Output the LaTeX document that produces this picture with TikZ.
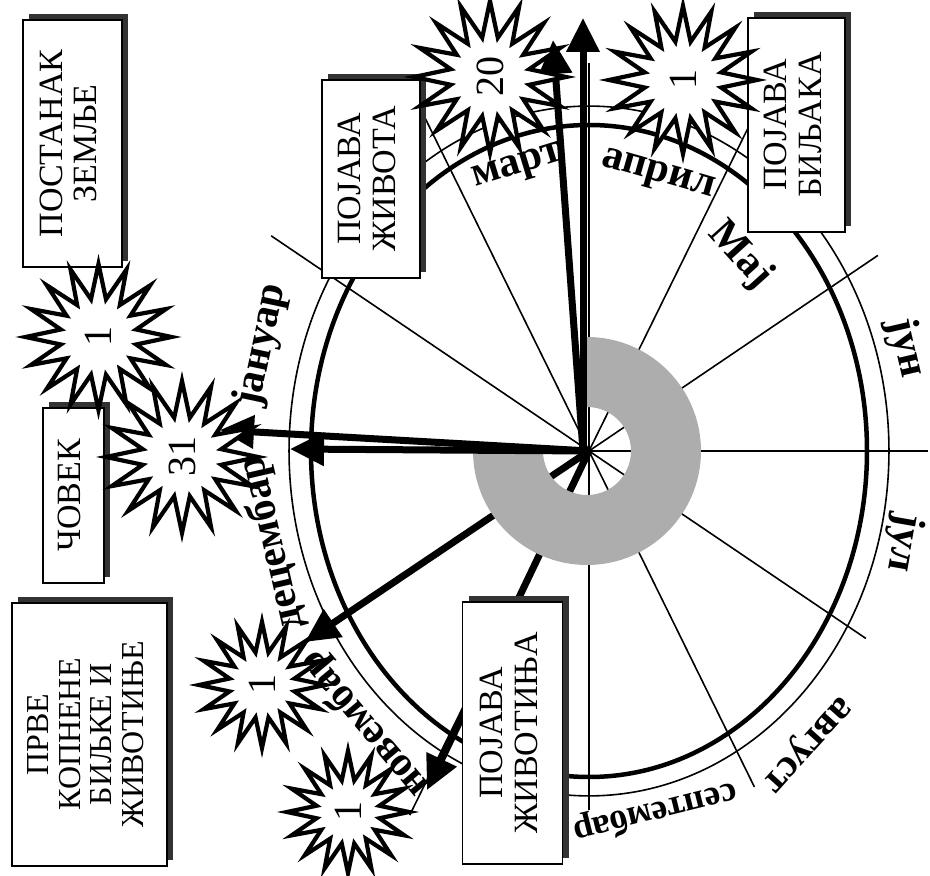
\documentclass[tikz,border=0pt]{standalone}
\usepackage{fontspec}
\setmainfont{Liberation Serif}
\usepackage{graphicx}
\usetikzlibrary{shapes.geometric,arrows.meta,shadows,calc}

\newcommand{\uspravno}[1]{\rotatebox{90}{\begin{tabular}{@{}c@{}}#1\end{tabular}}}

\tikzset{
  kutija/.style={draw, line width=1.8pt, fill=white, inner sep=0pt,
    font=\fontsize{34}{35}\selectfont,
    drop shadow={shadow xshift=6pt, shadow yshift=6pt, fill=black!80, opacity=1}},
  zvezda/.style={star, star points=16, star point ratio=1.9, draw, line width=4.2pt,
    fill=white, inner sep=0pt, rotate=90, font=\fontsize{40}{40}\selectfont},
  mesec/.style={inner sep=0pt, font=\bfseries\fontsize{42}{42}\selectfont},
  zbica/.style={line width=1.6pt},
  strela/.style={line width=7pt, -{Triangle[length=34pt,width=32pt]}},
}

\begin{document}
\begin{tikzpicture}[x=1pt,y=1pt]
\useasboundingbox (0,0) rectangle (930,876);
\coordinate (C) at (589,425);
\coordinate (Cs) at (587,425);
\coordinate (Cg) at (583,425);

% zbice i prstenovi
\begin{scope}[shift={(C)},x=278pt,y=326pt]
\foreach \k/\d in {0/1.22,30/1.2,60/1.2,90/1.19,120/1.22,150/1.32,210/1.18,240/1.29,270/1.1,300/1.19,330/1.15}
  \draw[zbica] (0,0) -- (\k:\d);
\draw[line width=4.5pt] (0,0) circle (1);
\draw[zbica] (0,0) ellipse [x radius=1.079, y radius=1.058];
\end{scope}

% strelice
\coordinate (gore) at (583,858);
\coordinate (gore2) at (553,836);
\coordinate (levo) at (220,446);
\coordinate (levo2) at (290,427);
\coordinate (dole1) at (305,234);
\coordinate (dole2) at (427,86);
\draw[strela] (C) -- (dole1);
\draw[strela] (C) -- (dole2);
\fill[black!32] (Cs) ++(90:114) arc[start angle=90,end angle=-180,radius=114]
  -- ++(70,0) arc[start angle=-180,end angle=90,radius=44] -- cycle;
\draw[strela] (Cg) -- (gore);
\draw[strela] (Cg) -- (gore2);
\draw[strela] (C) -- (levo);
\draw[strela] (C) -- (levo2);

% meseci
\node[mesec, rotate=17] (mart) at (518,708) {март};
\node[mesec, rotate=-16] (april) at (658,700) {април};
\node[mesec, rotate=-48] (maj) at (740,621) {Мај};
\node[mesec, rotate=-77] (jun) at (906,528) {јун};
\node[mesec, rotate=-100] (jul) at (903,333) {јул};
\node[mesec, rotate=-132, font=\bfseries\fontsize{40}{40}\selectfont] (avgust) at (805,134) {август};
\node[mesec, rotate=-166, font=\bfseries\fontsize{36}{36}\selectfont] (septembar) at (655,64) {септембар};
\node[mesec, rotate=130] (novembar) at (365,152) {новембар};
\node[mesec, rotate=103] (decembar) at (272,333) {децембар};
\node[mesec, rotate=78] (januar) at (262,531) {јануар};

% kutije
\node[kutija, minimum width=99pt, minimum height=247pt] (zemlja) at (72.5,732.5) {\uspravno{ПОСТАНАК\\ЗЕМЉЕ}};
\node[kutija, minimum width=98pt, minimum height=198pt] (zivot) at (371,697) {\uspravno{ПОЈАВА\\ЖИВОТА}};
\node[kutija, minimum width=97pt, minimum height=214pt] (biljke) at (796.5,751) {\uspravno{ПОЈАВА\\БИЉАКА}};
\node[kutija, minimum width=61pt, minimum height=175pt] (covek) at (73.5,380.5) {\uspravno{ЧОВЕК}};
\node[kutija, minimum width=155pt, minimum height=263pt, font=\fontsize{32}{31.5}\selectfont] (kopno) at (89.5,141.5) {\uspravno{ПРВЕ\\КОПНЕНЕ\\БИЉКЕ И\\ЖИВОТИЊЕ}};
\node[kutija, minimum width=100pt, minimum height=262pt] (zivotinje) at (512.5,143) {\uspravno{ПОЈАВА\\ЖИВОТИЊА}};

% zvezde
\node[zvezda, minimum size=146pt] (z1) at (98.5,539) {1};
\node[zvezda, minimum size=152pt] (z31) at (182,419) {31};
\node[zvezda, minimum size=152pt] (z20) at (490,799) {20};
\node[zvezda, minimum size=148pt] (z4) at (683,796) {1};
\node[zvezda, minimum size=126pt] (z12) at (262,191) {1};
\node[zvezda, minimum size=122pt] (z11) at (348,64) {1};
\end{tikzpicture}
\end{document}
